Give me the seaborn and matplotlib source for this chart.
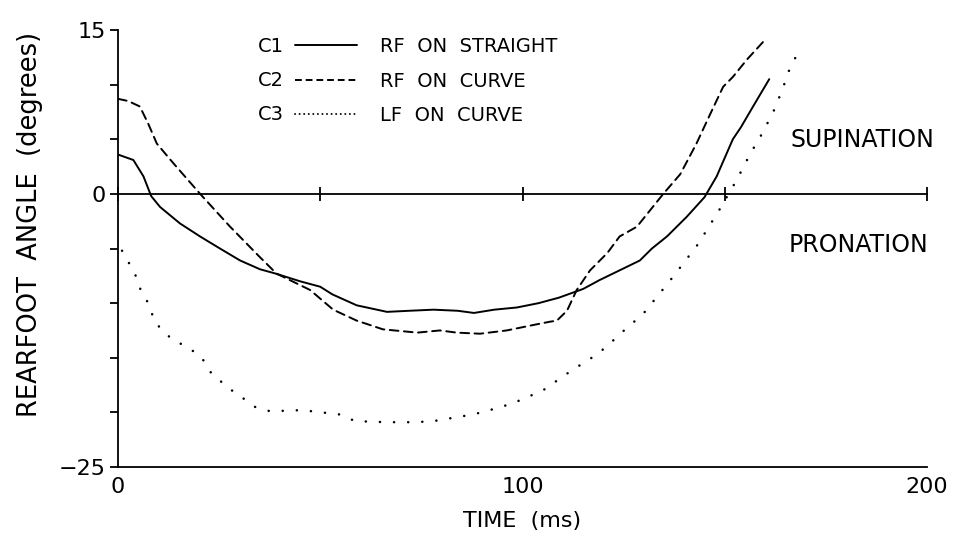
import matplotlib
matplotlib.use("Agg")
import matplotlib.pyplot as plt
from matplotlib.lines import Line2D
import seaborn as sns
import pandas as pd

# ---- data (time in ms, rearfoot angle in degrees) ----
c1_time = [0, 3.8, 6.3, 8.2, 10.4, 15.3, 20.3, 25.2, 30.2, 35.1, 39, 45, 50, 53, 59, 66.5,
           72, 78, 84, 88, 93, 98.6, 104, 109, 115, 119, 124, 129, 132, 135.7, 140.6,
           145, 148, 152, 154, 157, 161]
c1_angle = [3.6, 3.1, 1.6, -0.2, -1.2, -2.7, -3.9, -5.0, -6.1, -6.9, -7.3, -8.0, -8.5, -9.2,
            -10.2, -10.8, -10.7, -10.6, -10.7, -10.9, -10.6, -10.4, -10.0, -9.5, -8.7, -7.9,
            -7.0, -6.1, -5.0, -3.9, -2.1, -0.3, 1.6, 5.0, 6.1, 8.0, 10.5]

c2_time = [0, 2.5, 5.4, 7.5, 9.6, 13.7, 20.3, 27.7, 35.1, 39.2, 47.5, 53.2, 59, 65.5, 74,
           79.6, 83.7, 89.5, 96.1, 102.7, 106.8, 108.5, 111, 113.4, 116.7, 121, 124, 128.3,
           134.8, 139, 143, 146.4, 149.6, 152, 155.5, 160.2]
c2_angle = [8.7, 8.5, 8.0, 6.4, 4.6, 2.8, 0.0, -3.0, -5.8, -7.3, -8.8, -10.6, -11.6, -12.4,
            -12.7, -12.5, -12.7, -12.8, -12.5, -12.0, -11.7, -11.6, -10.7, -8.8, -7.0, -5.4,
            -3.9, -3.0, 0.0, 1.8, 4.6, 7.3, 9.8, 10.7, 12.3, 14.2]

c3_time = [1, 2.2, 4.2, 5, 6.3, 7.5, 8.7, 9.5, 11.6, 13.6, 16.6, 19, 20.7, 21.9, 23.2, 25.2,
           28.2, 30.9, 33.9, 37.6, 45, 48, 55, 58.6, 66.5, 73.4, 78, 86, 90, 97.4, 105, 112,
           118.4, 121, 125.4, 129.8, 137.2, 143.4, 148.6, 153, 156.2, 159.2, 162, 164.2,
           166, 168.6]
c3_angle = [-5.2, -6.0, -7.3, -8.3, -9.3, -10.0, -11.3, -11.9, -12.7, -13.4, -13.9, -14.5,
            -15.0, -15.7, -16.5, -17.1, -18.0, -18.7, -19.5, -19.9, -19.8, -19.9, -20.2, -20.8,
            -20.9, -20.9, -20.8, -20.3, -20.0, -19.2, -18.0, -16.2, -14.7, -13.9, -12.4, -11.0,
            -7.6, -4.6, -1.5, 1.3, 3.6, 5.5, 7.5, 9.5, 11.4, 13.3]

codes = ["C1", "C2", "C3"]
conditions = ["RF  ON  STRAIGHT", "RF  ON  CURVE", "LF  ON  CURVE"]

x_ticks = [0, 50, 100, 150, 200]
x_ticklabels = ["0", "", "100", "", "200"]
y_ticks = [15, 10, 5, 0, -5, -10, -15, -20, -25]
y_ticklabels = ["15", "", "", "0", "", "", "", "", "\u221225"]

df = pd.concat([
    pd.DataFrame({"time": c1_time, "angle": c1_angle, "curve": codes[0]}),
    pd.DataFrame({"time": c2_time, "angle": c2_angle, "curve": codes[1]}),
    pd.DataFrame({"time": c3_time, "angle": c3_angle, "curve": codes[2]}),
], ignore_index=True)

sns.set_style("white")
plt.rcParams["font.family"] = ["DejaVu Sans"]
plt.rcParams["text.color"] = "black"
plt.rcParams["axes.labelcolor"] = "black"
plt.rcParams["xtick.color"] = "black"
plt.rcParams["ytick.color"] = "black"

W, H = 958, 543
fig = plt.figure(figsize=(W / 100, H / 100), dpi=100)
ax = fig.add_axes([118 / W, 1 - 467 / H, (927 - 118) / W, (467 - 30) / H])

lw = 1.4
line_dashes = {"C1": "", "C2": (4.5, 2.8), "C3": (0.05, 5.2)}
sns.lineplot(data=df, x="time", y="angle", style="curve", color="black",
             dashes=line_dashes, estimator=None, sort=False, linewidth=lw,
             legend=False, ax=ax)
for ln, code in zip(ax.lines, codes):
    ln.set_dash_capstyle("round")
    ln.set_solid_joinstyle("round")
    if code == "C3":
        ln.set_linewidth(1.8)
        ln.set_linestyle((0, (0.05, 5.6)))
    elif code == "C2":
        ln.set_linestyle((0, (4.5, 2.8)))

ax.set_xlim(0, 200)
ax.set_ylim(-25, 15)

for side in ["left", "bottom", "top"]:
    ax.spines[side].set_visible(True)
    ax.spines[side].set_color("black")
    ax.spines[side].set_linewidth(1.3)
ax.spines["right"].set_visible(False)
ax.spines["top"].set_position(("data", 0))

ax.set_xticks(x_ticks)
ax.set_xticklabels(x_ticklabels)
ax.set_yticks(y_ticks)
ax.set_yticklabels(y_ticklabels)
ax.tick_params(axis="x", direction="inout", length=10, width=1.3, top=True,
               labeltop=False, labelsize=16, pad=2, colors="black")
ax.tick_params(axis="y", direction="out", length=6, width=1.3, left=True,
               labelsize=16, pad=3, colors="black")

ax.set_xlabel("TIME  (ms)", fontsize=16)
ax.xaxis.set_label_coords(0.5, -0.1)
ax.set_ylabel("REARFOOT  ANGLE  (degrees)", fontsize=18.5)
ax.yaxis.set_label_coords(-0.093, 0.555)

ax.text(184, 4.9, "SUPINATION", fontsize=17, ha="center", va="center", clip_on=False)
ax.text(183, -4.7, "PRONATION", fontsize=17, ha="center", va="center", clip_on=False)

# legend
handles = [
    Line2D([], [], color="black", lw=lw),
    Line2D([], [], color="black", lw=lw, dashes=(3.5, 2)),
    Line2D([], [], color="black", lw=lw, dashes=(0.05, 2.3), dash_capstyle="round"),
]
leg = ax.legend(handles, conditions, loc="upper left",
                bbox_to_anchor=(295 / W, 1 - 37 / H), bbox_transform=fig.transFigure,
                frameon=False, fontsize=14, handlelength=3.2, handletextpad=1.15,
                labelspacing=0.8, borderpad=0, borderaxespad=0)
row_y = [46, 80, 114]
for code, yy in zip(codes, row_y):
    fig.text(258 / W, 1 - yy / H, code, fontsize=14, ha="left", va="center")

fig.savefig("out.png", dpi=100)
